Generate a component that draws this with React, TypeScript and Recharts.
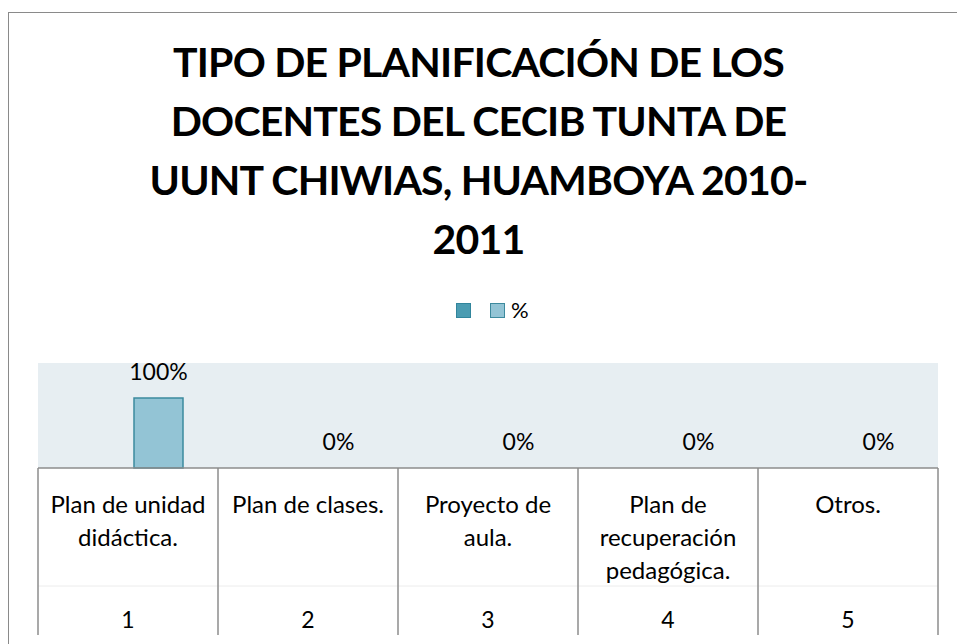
import { Bar, BarChart, CartesianGrid, Cell, LabelList, Legend, XAxis, YAxis } from "recharts";

const TITLE_LINES = [
  "TIPO DE PLANIFICACIÓN DE LOS",
  "DOCENTES DEL CECIB TUNTA DE",
  "UUNT CHIWIAS, HUAMBOYA 2010-",
  "2011",
];

const CATEGORIES = [
  "Plan de unidad\ndidáctica.",
  "Plan de clases.",
  "Proyecto de\naula.",
  "Plan de\nrecuperación\npedagógica.",
  "Otros.",
];
const CATEGORY_NUMBERS = ["1", "2", "3", "4", "5"];

// first series has no name and no values in the source
const SERIES_BLANK: (number | null)[] = [null, null, null, null, null];
const SERIES_PCT = [1, 0, 0, 0, 0];

const W = 957;
const H = 644;
const MARGIN = { top: 363, right: 19, bottom: 16, left: 38 };
const AXIS_H = 160;
const BAND = (W - MARGIN.left - MARGIN.right) / CATEGORIES.length;
const FONT = "Lato, 'Noto Sans', sans-serif";
const GRID = "#8c8c8c";

const data = CATEGORIES.map((name, i) => ({
  name,
  num: CATEGORY_NUMBERS[i],
  blank: SERIES_BLANK[i],
  pct: SERIES_PCT[i],
}));

const SERIES = [
  { key: "blank", name: "", fill: "#4b9cb2", stroke: "#31859c" },
  { key: "pct", name: "%", fill: "#93c4d5", stroke: "#3d8a9e" },
];

function CategoryTick(props: any) {
  const { x, y, payload, index } = props;
  const lines = String(payload.value).split("\n");
  const left = x - BAND / 2;
  const right = x + BAND / 2;
  const last = index === CATEGORIES.length - 1;
  return (
    <g>
      <line x1={left} x2={right} y1={y + 118} y2={y + 118} stroke="#ececec" strokeWidth={1} />
      <line x1={left} x2={left} y1={y} y2={y + 167} stroke={GRID} strokeWidth={1.5} />
      {last && <line x1={right} x2={right} y1={y} y2={y + 167} stroke={GRID} strokeWidth={1.5} />}
      <text textAnchor="middle" fontFamily={FONT} fontSize={24} fill="#000">
        {lines.map((l, i) => (
          <tspan key={i} x={x} y={y + 45 + i * 33}>
            {l}
          </tspan>
        ))}
      </text>
      <text x={x} y={y + 160} textAnchor="middle" fontFamily={FONT} fontSize={23} fill="#000">
        {CATEGORY_NUMBERS[index]}
      </text>
    </g>
  );
}

function LegendContent({ payload }: any) {
  return (
    <div style={{ display: "flex", alignItems: "center", fontFamily: FONT, fontSize: 22 }}>
      {(payload || []).map((entry: any, i: number) => {
        const s = SERIES.find((d) => d.key === entry.dataKey) || SERIES[i];
        return (
          <div key={i} style={{ display: "flex", alignItems: "center", marginRight: i === 0 ? 19 : 0 }}>
            <span
              style={{
                width: 13,
                height: 13,
                background: s.fill,
                border: `1.5px solid ${s.stroke}`,
                display: "inline-block",
              }}
            />
            {s.name && <span style={{ marginLeft: 6, lineHeight: "16px" }}>{s.name}</span>}
          </div>
        );
      })}
    </div>
  );
}

export default function App() {
  return (
    <div style={{ position: "fixed", left: 0, top: 0, width: W, height: H, overflow: "hidden", background: "#fff" }}>
      <div style={{ position: "absolute", left: 8, top: 12, width: W, height: 0, borderTop: "1.5px solid #8a8a8a" }} />
      <div style={{ position: "absolute", left: 8, top: 12, width: 0, height: H, borderLeft: "1.5px solid #8a8a8a" }} />
      <div
        style={{
          position: "absolute",
          top: 32,
          left: 0,
          width: W,
          textAlign: "center",
          fontFamily: FONT,
          fontWeight: 700,
          fontSize: 41,
          letterSpacing: -0.8,
          lineHeight: "59px",
          color: "#000",
        }}
      >
        {TITLE_LINES.map((l) => (
          <div key={l}>{l}</div>
        ))}
      </div>
      <div style={{ position: "absolute", left: 0, top: 0 }}>
        <BarChart width={W} height={H} data={data} margin={MARGIN} barCategoryGap={35} barGap={12}>
          <CartesianGrid horizontal={false} vertical={false} fill="#e7eef2" />
          <XAxis
            dataKey="name"
            height={AXIS_H}
            interval={0}
            tickLine={false}
            tickSize={0}
            tickMargin={0}
            axisLine={{ stroke: GRID, strokeWidth: 1.5 }}
            tick={<CategoryTick />}
          />
          <YAxis hide domain={[0, 1.5]} />
          <Legend
            layout="horizontal"
            verticalAlign="middle"
            align="center"
            content={<LegendContent />}
            wrapperStyle={{ position: "absolute", top: 302, left: 456, width: "auto" }}
          />
          {SERIES.map((s) => (
            <Bar
              key={s.key}
              dataKey={s.key}
              name={s.name}
              fill={s.fill}
              stroke={s.stroke}
              strokeWidth={1.5}
              minPointSize={s.key === "pct" ? 0.01 : 0}
              isAnimationActive={false}
            >
              {s.key === "pct" &&
                SERIES_PCT.map((v, i) => (
                  <Cell
                    key={i}
                    fill={v > 0 ? s.fill : "none"}
                    stroke={v > 0 ? s.stroke : "none"}
                  />
                ))}
              {s.key === "pct" && (
                <LabelList
                  dataKey="pct"
                  position="top"
                  offset={18}
                  formatter={(v: any) => `${Math.round(Number(v) * 100)}%`}
                  style={{ fontFamily: FONT, fontSize: 23, fill: "#000" }}
                />
              )}
            </Bar>
          ))}
        </BarChart>
      </div>
    </div>
  );
}
